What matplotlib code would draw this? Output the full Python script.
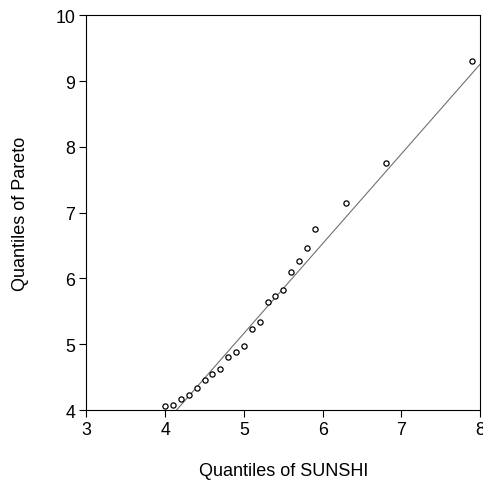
import matplotlib
matplotlib.use('Agg')
import matplotlib.pyplot as plt
import numpy as np

plt.rcParams['font.family'] = ['Liberation Sans', 'DejaVu Sans']

# empirical quantiles of SUNSHI vs theoretical Pareto quantiles
sunshi = [4.0, 4.1, 4.2, 4.3, 4.4, 4.5, 4.6, 4.7, 4.8, 4.9, 5.0, 5.1, 5.2,
          5.3, 5.4, 5.5, 5.6, 5.7, 5.8, 5.9, 6.3, 6.8, 7.9]
pareto = [4.06, 4.08, 4.16, 4.23, 4.33, 4.45, 4.54, 4.62, 4.81, 4.88, 4.97,
          5.23, 5.34, 5.64, 5.73, 5.83, 6.10, 6.27, 6.47, 6.75, 7.14, 7.76, 9.30]

# reference line
line_x = [4.146, 8.0]
line_y = [4.0, 9.26]

fig = plt.figure(figsize=(4.83, 4.89), dpi=100)
ax = fig.add_axes([0.1787, 0.1595, 0.8157, 0.8072])

ax.plot(line_x, line_y, color='#707070', lw=0.8, zorder=1)
ax.scatter(sunshi, pareto, s=14, facecolors='white', edgecolors='black',
           linewidths=0.9, zorder=2)

ax.set_xlim(3, 8)
ax.set_ylim(4, 10)
ax.set_xticks([3, 4, 5, 6, 7, 8])
ax.set_yticks([4, 5, 6, 7, 8, 9, 10])
ax.tick_params(direction='out', length=5, width=0.8, labelsize=12.8, pad=3)
for s in ax.spines.values():
    s.set_linewidth(0.8)

ax.set_xlabel('Quantiles of SUNSHI', fontsize=13, labelpad=17)
ax.set_ylabel('Quantiles of Pareto', fontsize=13, labelpad=19)

fig.savefig('out.png', dpi=100)
